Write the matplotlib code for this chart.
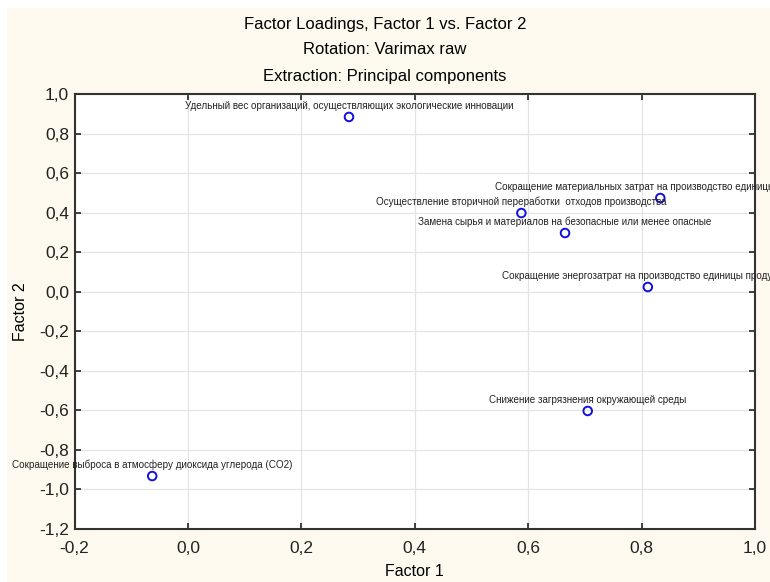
import matplotlib
matplotlib.use("Agg")
import matplotlib.pyplot as plt
from matplotlib.patches import Rectangle
from matplotlib.ticker import FuncFormatter, MultipleLocator

# factor loadings
labels = [
    "Удельный вес организаций, осуществляющих экологические инновации",
    "Сокращение материальных затрат на производство единицы продукции",
    "Осуществление вторичной переработки  отходов производства",
    "Замена сырья и материалов на безопасные или менее опасные",
    "Сокращение энергозатрат на производство единицы продукции",
    "Снижение загрязнения окружающей среды",
    "Сокращение выброса в атмосферу диоксида углерода (CO2)",
]
factor1 = [0.284, 0.833, 0.588, 0.665, 0.811, 0.705, -0.063]
factor2 = [0.884, 0.474, 0.398, 0.297, 0.024, -0.603, -0.932]

plt.rcParams['font.family'] = ['Liberation Sans', 'DejaVu Sans']

fig = plt.figure(figsize=(7.7, 5.82), dpi=100)
fig.set_facecolor('white')
# cream panel, leaving a thin white strip at top and left
fig.patches.append(Rectangle((7 / 770, 0), 1, 1 - 8 / 582, transform=fig.transFigure,
                             facecolor='#fdf9ee', edgecolor='none', zorder=-10))

ax = fig.add_axes([0.0968, 0.091, 0.8837, 0.7475])
ax.set_facecolor('white')

ax.scatter(factor1, factor2, s=38, facecolors='none', edgecolors='#1010e0',
           linewidths=1.4, zorder=3)
for name, x, y in zip(labels, factor1, factor2):
    ax.annotate(name, (x, y), xytext=(0, 4.5), textcoords='offset points',
                ha='center', va='bottom', fontsize=7.1, color='#222222',
                clip_on=False, annotation_clip=False)

ax.set_xlim(-0.2, 1.0)
ax.set_ylim(-1.2, 1.0)
ax.xaxis.set_major_locator(MultipleLocator(0.2))
ax.yaxis.set_major_locator(MultipleLocator(0.2))
fmt = FuncFormatter(lambda v, p: ('%.1f' % v).replace('.', ',').replace('-0,0', '0,0'))
ax.xaxis.set_major_formatter(fmt)
ax.yaxis.set_major_formatter(fmt)

ax.grid(True, color='#e4e4e4', linewidth=0.9)
ax.set_axisbelow(True)
ax.tick_params(direction='in', length=4, width=1.2, top=True, right=True,
               labelsize=12.5, colors='#222222')
ax.tick_params(axis='x', pad=8.5)
ax.tick_params(axis='y', pad=4)
for sp in ax.spines.values():
    sp.set_linewidth(1.5)
    sp.set_color('#333333')

ax.set_xlabel('Factor 1', fontsize=11.5, labelpad=6)
ax.set_ylabel('Factor 2', fontsize=11.5, labelpad=8)

fig.text(0.5, 1 - 24 / 582, 'Factor Loadings, Factor 1 vs. Factor 2', ha='center',
         va='center', fontsize=12)
fig.text(0.5, 1 - 50 / 582, 'Rotation: Varimax raw', ha='center', va='center',
         fontsize=12)
fig.text(0.5, 1 - 76 / 582, 'Extraction: Principal components', ha='center',
         va='center', fontsize=12)

fig.savefig('out.png', dpi=100, facecolor=fig.get_facecolor())
